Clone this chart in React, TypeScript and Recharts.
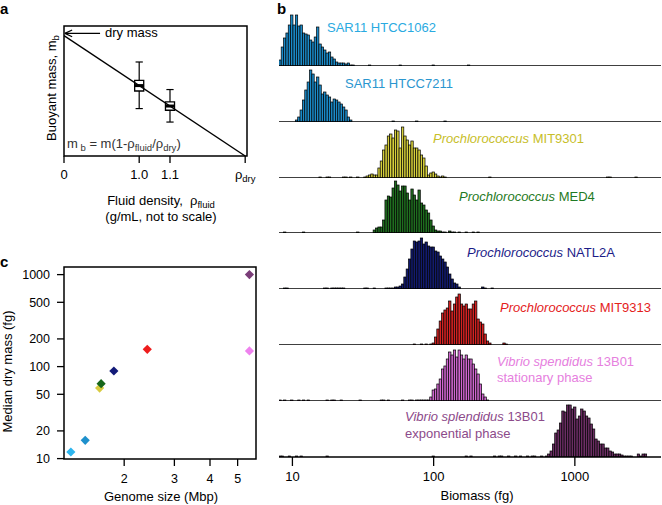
import React from 'react';
import {
  ComposedChart,
  BarChart,
  ScatterChart,
  Bar,
  Line,
  Scatter,
  Cell,
  XAxis,
  YAxis,
  ReferenceLine,
  ReferenceArea,
} from 'recharts';

const FONT = '"Liberation Sans", Arial, Helvetica, sans-serif';

// ---------------- Panel a (schematic, not to scale) ----------------
const densityTicks = [0, 4.15, 5.85, 10];
const densityTickLabels = ['0', '1.0', '1.1', 'ρ|dry'];
const massLineDensity = [0, 10];
const massLineValue = [10, 0];
const boxDensity = [4.15, 5.85];
const boxWhiskerLow = [3.94, 2.82];
const boxQ1 = [5.4, 3.8];
const boxMedian = [5.85, 4.15];
const boxQ3 = [6.29, 4.49];
const boxWhiskerHigh = [7.81, 5.52];
const dryMassArrowY = 10.19;
const dryMassArrowEnd = 1.99;

// ---------------- Panel b (biomass histograms) ----------------
const binCount = 162;
const biomassLogRange = [0.905, 3.61];
const biomassTicks = [10, 100, 1000];

const strainItalic = ['', '', 'Prochlorococcus', 'Prochlorococcus', 'Prochlorococcus', 'Prochlorococcus', 'Vibrio spendidus', 'Vibrio splendidus'];
const strainRoman = ['SAR11 HTCC1062', 'SAR11 HTCC7211', 'MIT9301', 'MED4', 'NATL2A', 'MIT9313', '13B01', '13B01'];
const strainSecondLine = ['', '', '', '', '', '', 'stationary phase', 'exponential phase'];

// segments: [first bin index, counts...]
const hist1062: [number, number[]][] = [
  [0, [6, 19, 28, 33, 41, 51, 41, 51, 40, 41, 33, 32, 31, 26, 24, 29, 39, 22, 19, 16, 13, 14, 9, 7, 4, 3, 3, 3, 2, 3, 1, 1]],
  [38, [1]], [51, [1]], [65, [1]], [80, [1]],
];
const hist7211: [number, number[]][] = [
  [7, [2, 5, 12, 22, 32, 40, 52, 48, 40, 45, 37, 28, 30, 27, 25, 20, 23, 22, 20, 18, 15, 12, 5, 2]],
  [48, [1]], [58, [1]], [70, [1]],
];
const hist9301: [number, number[]][] = [
  [17, [1]], [20, [1, 1]], [27, [1, 1]], [30, [1]], [33, [1]],
  [36, [1, 2, 3, 4, 3, 3]],
  [42, [10, 17, 28, 33, 42, 44, 40, 48, 47, 30, 51, 42, 38, 33, 37, 30, 30, 28, 23, 20, 12, 3, 5, 6, 4, 2]],
  [68, [1, 2, 1]], [89, [1]], [139, [1, 1]], [151, [1]],
];
const histMED4: [number, number[]][] = [
  [2, [1]], [10, [1]], [33, [1]],
  [40, [3, 5, 6, 6, 13, 33, 37, 36, 45, 52, 48, 42, 47, 47, 40, 33, 44, 38, 33, 43, 30, 28, 23, 20, 13, 7, 3]],
  [67, [2, 2, 1, 1, 0, 2, 1, 1, 0, 1, 0, 0, 1, 0, 0, 1, 0, 1]],
];
const histNATL2A: [number, number[]][] = [
  [2, [1, 1]], [19, [1, 1]], [22, [1, 1, 1, 1, 1, 1]], [36, [1, 1]], [40, [1]],
  [45, [1, 1, 1, 1, 2, 2, 3, 5]],
  [53, [12, 20, 30, 40, 48, 47, 48, 51, 45, 47, 43, 42, 42, 38, 37, 33, 30, 27, 22, 15, 10, 6, 5, 2]],
  [86, [2, 1]], [90, [1]],
];
const hist9313: [number, number[]][] = [
  [57, [1]], [60, [1, 0, 1, 0, 1, 2]],
  [66, [8, 16, 24, 32, 35, 37, 44, 34, 41, 48, 51, 41, 39, 41, 36, 36, 41, 44, 26, 23, 21, 11, 4]],
  [89, [2]], [95, [2, 1]],
];
const histStationary: [number, number[]][] = [
  [0, [1, 0, 1, 0, 0, 1, 0, 0, 1, 0, 1, 0, 1]],
  [20, [1, 0, 1, 1, 0, 0, 1]], [34, [1]], [43, [1, 1, 0, 1]],
  [52, [1, 0, 0, 1, 1, 0, 1, 1, 1, 1, 1, 1]],
  [64, [4, 11, 12, 17, 22, 32, 35, 42, 49, 46, 51, 44, 51, 46, 42, 46, 42, 42, 37, 32, 27, 17, 7, 4, 1]],
];
const histExponential: [number, number[]][] = [
  [0, [1, 1, 0, 0, 1, 0, 0, 1, 0, 1]], [20, [1]], [65, [1]], [79, [1, 0, 1]],
  [91, [1, 0, 1, 1, 0, 0, 1, 0, 0, 1, 0, 1]], [105, [1, 0, 1, 1, 0, 0, 1]],
  [113, [1, 3, 6, 13, 24, 27, 34, 46, 45, 52, 52, 48, 50, 38, 41, 48, 46, 41, 39, 33, 28, 18, 16, 13, 13, 9, 9, 6, 5, 3, 3, 3, 2, 1, 1, 1, 1, 0, 0, 3, 1, 3, 3]],
];
const histograms = [hist1062, hist7211, hist9301, histMED4, histNATL2A, hist9313, histStationary, histExponential];

// ---------------- Panel c ----------------
const genomeSize = [1.3, 1.46, 1.64, 1.66, 1.84, 2.41, 5.5, 5.5];
const medianDryMass = [11.8, 15.8, 58.5, 65.3, 89.6, 154, 148, 1000];
const genomeTicks = [2, 3, 4, 5];
const massTicks = [10, 20, 50, 100, 200, 500, 1000];

// ---------------- styles ----------------
const barColors = ['#1A8AC8', '#1A8AC8', '#D6CF3A', '#1F6E1F', '#121B6F', '#D42222', '#CF66CF', '#6B2D63'];
const labelColors = ['#29AAE1', '#2A96CF', '#C7BE29', '#1F7A24', '#1C1C88', '#E4211C', '#E680DE', '#8C4A8A'];
const markerColors = ['#2DB5EE', '#1E90CC', '#D8CB40', '#16661A', '#121A78', '#EE1C1C', '#EE82EE', '#7A3D78'];
const labelX = [327, 345, 433, 459, 467, 500, 497, 405];
const labelBaseline = [32.3, 88.3, 143.3, 200.7, 256.7, 311.7, 365.7, 421];

const HIST_LEFT = 279;
const HIST_WIDTH = 382;
const HIST_H = 56;
const FIRST_BASELINE = 66;
const BASELINE_STEP = 55.83;
const BAND_W = HIST_WIDTH / binCount;

function buildHist(segments: [number, number[]][]) {
  const w = (biomassLogRange[1] - biomassLogRange[0]) / binCount;
  const rows = Array.from({ length: binCount }, (_, i) => ({
    bin: i,
    biomass: Math.pow(10, biomassLogRange[0] + (i + 0.5) * w),
    count: null as number | null,
  }));
  segments.forEach(([start, vals]) =>
    vals.forEach((v, k) => {
      if (v > 0 && start + k < binCount) rows[start + k].count = v;
    })
  );
  return rows;
}

function HistBar(props: any) {
  const { x, y, width, height, fill } = props;
  if (height == null || !(height > 0)) return null;
  const cx = x + width / 2;
  return (
    <rect x={cx - BAND_W / 2} y={y} width={BAND_W} height={height} fill={fill} stroke="#000" strokeWidth={0.7} />
  );
}

function Histogram({ segments, fill, top, withAxis }: { segments: [number, number[]][]; fill: string; top: number; withAxis: boolean }) {
  const rows = buildHist(segments);
  const axisH = withAxis ? 48 : 0;
  const height = HIST_H + axisH;
  return (
    <div style={{ position: 'absolute', left: HIST_LEFT, top, width: HIST_WIDTH, height }}>
      <BarChart
        width={HIST_WIDTH}
        height={height}
        data={rows}
        margin={{ top: 0, right: 0, bottom: 0, left: 0 }}
        barCategoryGap={0}
        barGap={0}
      >
        <XAxis dataKey="bin" type="category" hide height={0} />
        {withAxis && (
          <XAxis
            xAxisId="log"
            dataKey="biomass"
            type="number"
            scale="log"
            domain={[Math.pow(10, biomassLogRange[0]), Math.pow(10, biomassLogRange[1])]}
            allowDataOverflow
            ticks={biomassTicks}
            interval={0}
            height={axisH}
            tickSize={9}
            tickMargin={6}
            axisLine={false}
            tickLine={{ stroke: '#000', strokeWidth: 1.3 }}
            tick={{ fill: '#000', fontSize: 13 }}
          />
        )}
        <YAxis hide type="number" domain={[0, HIST_H]} allowDataOverflow />
        <Bar dataKey="count" fill={fill} shape={(p: any) => <HistBar {...p} fill={fill} />} isAnimationActive={false} />
        <ReferenceLine y={0} stroke="#000" strokeWidth={1.6} />
      </BarChart>
    </div>
  );
}

function DensityTick(props: any) {
  const { x, y, payload } = props;
  const idx = densityTicks.indexOf(payload.value);
  const label = idx >= 0 ? densityTickLabels[idx] : String(payload.value);
  const [main, sub] = label.split('|');
  return (
    <text x={x} y={y} dy="0.71em" textAnchor="middle" fontSize={13} fill="#000">
      {main}
      {sub ? (
        <tspan dy={3} fontSize={9.5}>
          {sub}
        </tspan>
      ) : null}
    </text>
  );
}

function Diamond(props: any) {
  const { cx, cy, fill } = props;
  if (cx == null || cy == null) return null;
  const r = 4.6;
  return <polygon points={`${cx},${cy - r} ${cx + r},${cy} ${cx},${cy + r} ${cx - r},${cy}`} fill={fill} />;
}

function PanelA() {
  const lineData = massLineDensity.map((x, i) => ({ x, y: massLineValue[i] }));
  return (
    <div style={{ position: 'absolute', left: 0, top: 0, width: 262, height: 232 }}>
      <ComposedChart width={262} height={232} data={lineData} margin={{ top: 26, right: 15, bottom: 0, left: 64 }}>
        <XAxis
          dataKey="x"
          type="number"
          domain={[0, 10.1]}
          allowDataOverflow
          ticks={densityTicks}
          interval={0}
          height={76}
          tickSize={7}
          tickMargin={7}
          axisLine={false}
          tickLine={{ stroke: '#000', strokeWidth: 1.3 }}
          tick={<DensityTick />}
        />
        <YAxis hide type="number" domain={[0, 10.8]} allowDataOverflow />
        <ReferenceArea x1={0} x2={10.1} y1={0} y2={10.8} fill="none" stroke="#000" strokeWidth={1.5} fillOpacity={0} />
        <Line dataKey="y" stroke="#000" strokeWidth={1.3} dot={false} isAnimationActive={false} />
        <ReferenceLine segment={[{ x: 0.05, y: dryMassArrowY }, { x: dryMassArrowEnd, y: dryMassArrowY }]} stroke="#000" strokeWidth={1.2} />
        <ReferenceLine segment={[{ x: 0.05, y: dryMassArrowY }, { x: 0.45, y: dryMassArrowY + 0.28 }]} stroke="#000" strokeWidth={1.2} />
        <ReferenceLine segment={[{ x: 0.05, y: dryMassArrowY }, { x: 0.45, y: dryMassArrowY - 0.28 }]} stroke="#000" strokeWidth={1.2} />
        {boxDensity.map((bx, i) => [
          <ReferenceLine key={`wl${i}`} segment={[{ x: bx, y: boxWhiskerLow[i] }, { x: bx, y: boxQ1[i] }]} stroke="#000" strokeWidth={1.2} />,
          <ReferenceLine key={`wh${i}`} segment={[{ x: bx, y: boxQ3[i] }, { x: bx, y: boxWhiskerHigh[i] }]} stroke="#000" strokeWidth={1.2} />,
          <ReferenceLine key={`cl${i}`} segment={[{ x: bx - 0.2, y: boxWhiskerLow[i] }, { x: bx + 0.2, y: boxWhiskerLow[i] }]} stroke="#000" strokeWidth={1.2} />,
          <ReferenceLine key={`ch${i}`} segment={[{ x: bx - 0.2, y: boxWhiskerHigh[i] }, { x: bx + 0.2, y: boxWhiskerHigh[i] }]} stroke="#000" strokeWidth={1.2} />,
          <ReferenceArea key={`b${i}`} x1={bx - 0.25} x2={bx + 0.25} y1={boxQ1[i]} y2={boxQ3[i]} fill="#fff" fillOpacity={1} stroke="#000" strokeWidth={1.3} />,
          <ReferenceLine key={`m${i}`} segment={[{ x: bx - 0.25, y: boxMedian[i] }, { x: bx + 0.25, y: boxMedian[i] }]} stroke="#000" strokeWidth={3} />,
        ])}
      </ComposedChart>
    </div>
  );
}

function PanelC() {
  const points = genomeSize.map((g, i) => ({ g, m: medianDryMass[i] }));
  return (
    <div style={{ position: 'absolute', left: 0, top: 240, width: 262, height: 265 }}>
      <ScatterChart width={262} height={265} margin={{ top: 27, right: 6, bottom: 0, left: 0 }}>
        <XAxis
          dataKey="g"
          type="number"
          scale="log"
          domain={[1.23, 5.8]}
          allowDataOverflow
          ticks={genomeTicks}
          interval={0}
          height={46}
          tickSize={7}
          tickMargin={8}
          axisLine={false}
          tickLine={{ stroke: '#000', strokeWidth: 1.3 }}
          tick={{ fill: '#000', fontSize: 12.5 }}
        />
        <YAxis
          dataKey="m"
          type="number"
          scale="log"
          domain={[9.9, 1210]}
          allowDataOverflow
          ticks={massTicks}
          interval={0}
          width={64}
          tickSize={7}
          tickMargin={7}
          axisLine={false}
          tickLine={{ stroke: '#000', strokeWidth: 1.3 }}
          tick={{ fill: '#000', fontSize: 12.5 }}
        />
        <ReferenceArea x1={1.23} x2={5.8} y1={9.9} y2={1210} fill="none" fillOpacity={0} stroke="#000" strokeWidth={1.5} />
        <Scatter data={points} shape={(p: any) => <Diamond {...p} />} isAnimationActive={false}>
          {points.map((_, i) => (
            <Cell key={i} fill={markerColors[i]} />
          ))}
        </Scatter>
      </ScatterChart>
    </div>
  );
}

function Overlay() {
  return (
    <svg width={662} height={505} style={{ position: 'absolute', left: 0, top: 0, pointerEvents: 'none' }} fontFamily={FONT}>
      <text x={0} y={13.5} fontSize={15} fontWeight="bold">a</text>
      <text x={277} y={13.8} fontSize={15} fontWeight="bold">b</text>
      <text x={0} y={267} fontSize={15} fontWeight="bold">c</text>

      {/* panel a */}
      <text x={105} y={37.3} fontSize={13}>dry mass</text>
      <text x={67} y={147.7} fontSize={13} fill="#333" style={{ whiteSpace: 'pre' }}>
        <tspan>m</tspan>
        <tspan dy={3} fontSize={9.5}>{' b'}</tspan>
        <tspan dy={-3}>{' = m(1-ρ'}</tspan>
        <tspan dy={3} fontSize={9.5}>fluid</tspan>
        <tspan dy={-3}>/ρ</tspan>
        <tspan dy={3} fontSize={9.5}>dry</tspan>
        <tspan dy={-3}>)</tspan>
      </text>
      <text x={161} y={204.7} fontSize={13} textAnchor="middle" style={{ whiteSpace: 'pre' }}>
        <tspan>{'Fluid density,  ρ'}</tspan>
        <tspan dy={3} fontSize={9.5}>fluid</tspan>
      </text>
      <text x={161} y={221.3} fontSize={13} textAnchor="middle">(g/mL, not to scale)</text>
      <text x={56} y={88} fontSize={13} textAnchor="middle" transform="rotate(-90 56 88)">
        <tspan>Buoyant mass, m</tspan>
        <tspan dy={3} fontSize={9.5}>b</tspan>
      </text>

      {/* panel b labels */}
      {strainRoman.map((r, i) => (
        <g key={i} fill={labelColors[i]} fontSize={13}>
          <text x={labelX[i]} y={labelBaseline[i]} style={{ whiteSpace: 'pre' }}>
            {strainItalic[i] ? <tspan fontStyle="italic">{strainItalic[i] + ' '}</tspan> : null}
            <tspan>{r}</tspan>
          </text>
          {strainSecondLine[i] ? (
            <text x={labelX[i]} y={labelBaseline[i] + 16.6}>{strainSecondLine[i]}</text>
          ) : null}
        </g>
      ))}
      <text x={477} y={500} fontSize={13} textAnchor="middle">Biomass (fg)</text>

      {/* panel c */}
      <text x={161} y={500.5} fontSize={13} textAnchor="middle">Genome size (Mbp)</text>
      <text x={12} y={371.5} fontSize={13} textAnchor="middle" transform="rotate(-90 12 371.5)">Median dry mass (fg)</text>
    </svg>
  );
}

export default function App() {
  return (
    <div style={{ position: 'absolute', left: 0, top: 0, width: 662, height: 505, fontFamily: FONT, background: '#fff' }}>
      <PanelA />
      <PanelC />
      {histograms.map((seg, i) => {
        const baseline = FIRST_BASELINE + i * BASELINE_STEP;
        return (
          <Histogram
            key={i}
            segments={seg}
            fill={barColors[i]}
            top={baseline - HIST_H}
            withAxis={i === histograms.length - 1}
          />
        );
      })}
      <Overlay />
    </div>
  );
}
